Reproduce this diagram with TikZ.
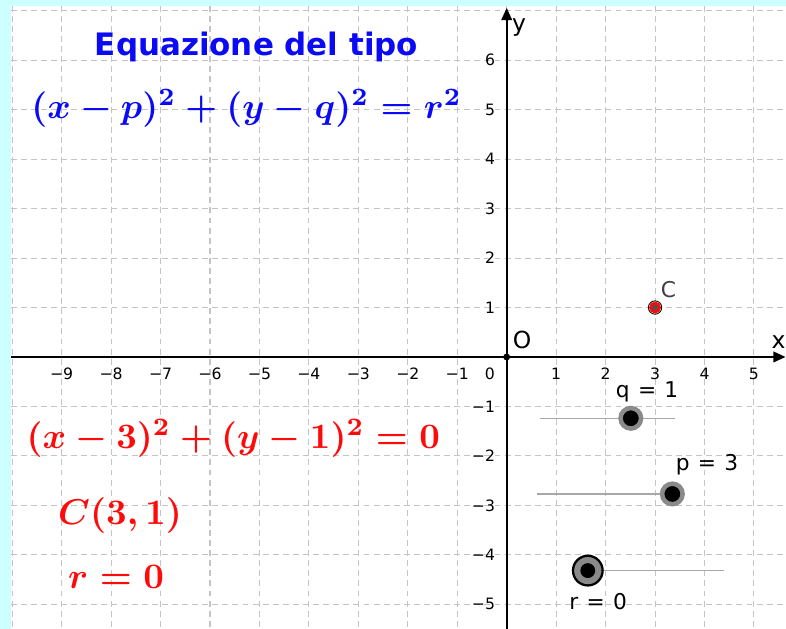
\documentclass[tikz,border=0pt]{standalone}
\usepackage{fontspec}
\newfontfamily\lblfont{DejaVu Sans}
\usetikzlibrary{arrows.meta}
\definecolor{bordercyan}{HTML}{CCFFFF}
\definecolor{gridgray}{HTML}{C4C4C4}
\definecolor{ggblue}{HTML}{0A0AF5}
\definecolor{ggred}{HTML}{FF0A0A}
\definecolor{ptgray}{HTML}{505050}
\definecolor{halogray}{HTML}{8A8A8A}
\definecolor{slidergray}{HTML}{A8A8A8}
\definecolor{lblgray}{HTML}{404040}
\begin{document}
\begin{tikzpicture}[x=1cm,y=1cm,
  gridline/.style={gridgray, line width=0.6pt, dash pattern=on 3.4pt off 2.4pt},
  axisline/.style={black, line width=1.2pt, -{Triangle[length=7pt,width=6pt]}},
  ticklbl/.style={font=\lblfont\fontsize{9}{11}\selectfont, inner sep=0pt},
  biglbl/.style={font=\lblfont\fontsize{13.5}{15}\selectfont, inner sep=0pt, anchor=base},
  sliderlbl/.style={font=\lblfont\fontsize{12.5}{14}\selectfont, inner sep=0pt, anchor=base},
  sliderline/.style={slidergray, line width=0.8pt},
  sliderpt/.style={circle, inner sep=0pt, minimum size=0.415cm, fill=black, draw=halogray, line width=2.6pt},
  bighalo/.style={circle, inner sep=0pt, minimum size=0.6cm, fill=halogray, draw=black, line width=1.3pt},
  dotpt/.style={circle, inner sep=0pt, minimum size=0.3cm, fill=black},
  mathlbl/.style={inner sep=0pt},
]
\useasboundingbox (-10.247,-5.5) rectangle (5.648,7.219);
\fill[white] (-10.247,-5.5) rectangle (5.648,7.219);
% grid
\foreach \x in {-10,...,5} \draw[gridline] (\x,7.1) -- (\x,-5.5);
\foreach \y in {-5,...,7} \draw[gridline] (-10.03,\y) -- (5.648,\y);
% axes
\coordinate (xs) at (-10.247,0);
\coordinate (xe) at (5.64,0);
\coordinate (ys) at (0,-5.5);
\coordinate (ye) at (0,7.06);
\draw[axisline] (xs) -- (xe);
\draw[axisline] (ys) -- (ye);
% tick labels
\foreach \x in {-9,...,-1} {
  \pgfmathtruncatemacro\ax{-\x}
  \node[ticklbl] (txm\ax) at (\x,-0.345) {−\ax};
}
\foreach \x in {1,...,5} \node[ticklbl] (tx\x) at (\x,-0.345) {\x};
\node[ticklbl] (tzero) at (-0.34,-0.345) {0};
\foreach \y in {1,...,6} \node[ticklbl, anchor=east] (ty\y) at (-0.23,\y) {\y};
\foreach \y in {-5,...,-1} {
  \pgfmathtruncatemacro\ay{-\y}
  \node[ticklbl, anchor=east] (tym\ay) at (-0.23,\y) {−\ay};
}
% axis names and origin
\node[biglbl] (xlbl) at (5.50,0.18) {x};
\node[biglbl] (ylbl) at (0.25,6.59) {y};
\node[biglbl] (olbl) at (0.31,0.18) {O};
\node[dotpt, minimum size=0.14cm] (O) at (0,0) {};
% point C
\node[circle, inner sep=0pt, minimum size=0.27cm, draw=black, line width=0.5pt] (Cout) at (3,1) {};
\node[circle, inner sep=0pt, minimum size=0.182cm, fill=ptgray, draw=ggred, line width=1.6pt] (C) at (3,1) {};
\node[biglbl, text=lblgray, font=\lblfont\fontsize{12.5}{14}\selectfont] (clbl) at (3.27,1.193) {C};
% sliders
\coordinate (qa) at (0.67,-1.24);
\coordinate (qb) at (3.40,-1.24);
\draw[sliderline] (qa) -- (qb);
\node[sliderpt] (qpt) at (2.51,-1.24) {};
\node[sliderlbl] (qlbl) at (2.84,-0.829) {q\hspace{0.38em}=\hspace{0.38em}1};
\coordinate (pa) at (0.61,-2.77);
\node[sliderpt] (ppt) at (3.35,-2.77) {};
\draw[sliderline] (pa) -- (ppt);
\node[sliderlbl] (plbl) at (4.05,-2.30) {p\hspace{0.38em}=\hspace{0.38em}3};
\coordinate (rb) at (4.39,-4.32);
\node[bighalo] (rhalo) at (1.64,-4.32) {};
\draw[sliderline] (rhalo) -- (rb);
\node[dotpt] (rpt) at (1.64,-4.32) {};
\node[sliderlbl] (rlbl) at (1.85,-5.10) {r\hspace{0.38em}=\hspace{0.38em}0};
% texts
\node[inner sep=0pt, text=ggblue, font=\lblfont\bfseries\fontsize{17.8}{20}\selectfont] (title) at (-5.06,6.27) {Equazione del tipo};
\node[mathlbl, text=ggblue] (geneq) at (-5.26,5.02) {\resizebox{8.70cm}{!}{\boldmath$(x-p)^2+(y-q)^2=r^2$}};
\node[mathlbl, text=ggred] (speceq) at (-5.53,-1.638) {\resizebox{8.36cm}{!}{\boldmath$(x-3)^2+(y-1)^2=0$}};
\node[mathlbl, text=ggred] (center) at (-7.82,-3.21) {\resizebox{2.50cm}{!}{\boldmath$C(3,1)$}};
\node[mathlbl, text=ggred] (radius) at (-7.90,-4.44) {\resizebox{1.935cm}{!}{\boldmath$r=0$}};
% border
\fill[bordercyan] (-10.247,-5.5) rectangle (-10.025,7.219);
\fill[bordercyan] (-10.247,7.098) rectangle (5.648,7.219);
\end{tikzpicture}
\end{document}
